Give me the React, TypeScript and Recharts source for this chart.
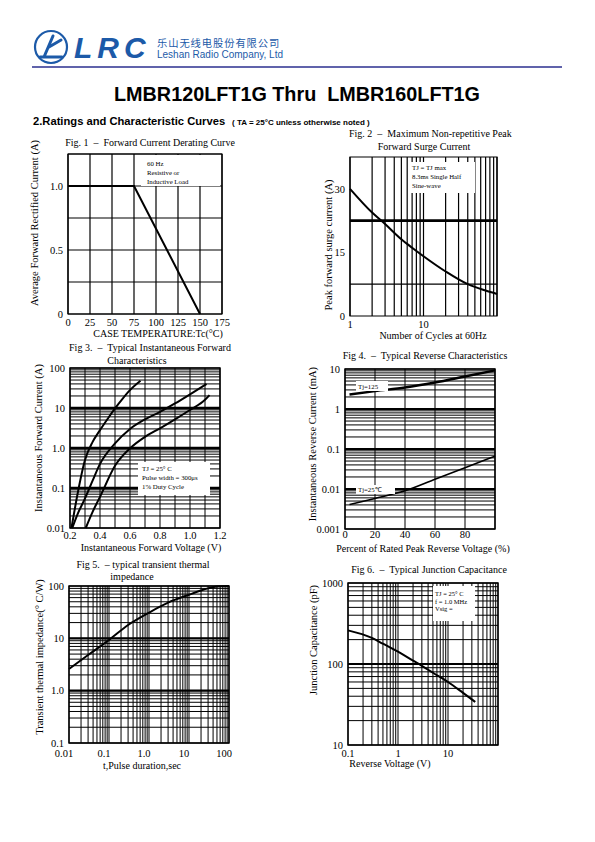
import React from 'react';
import { LineChart, Line, XAxis, YAxis, CartesianGrid, ReferenceLine, ReferenceArea } from 'recharts';

const SERIF = '"Liberation Serif", "Times New Roman", serif';
const SANS = '"Liberation Sans", Arial, sans-serif';
const BLUE = '#1c5aa8';

// ---------- Fig 1: Forward Current Derating Curve
const fig1Temp = [0, 75, 150];
const fig1Current = [1.0, 1.0, 0];
const fig1XTicks = [0, 25, 50, 75, 100, 125, 150, 175];
const fig1YTicks = [0, 0.25, 0.5, 0.75, 1.0, 1.25];
const fig1YLabelValues = [0, 0.5, 1.0];
const fig1YLabelText = ['0', '0.5', '1.0'];

// ---------- Fig 2: Max non-repetitive peak forward surge current
const fig2Cycles = [1, 2, 3, 5, 7, 10, 20, 40, 70, 100];
const fig2Surge = [30, 24.4, 21.7, 18.1, 16.1, 14.1, 10.5, 7.5, 6.0, 5.2];
const fig2YTicks = [0, 15, 30];
const fig2YGridThin = 7.5;
const fig2YGridThick = 22.5;
const fig2XLabelValues = [1, 10];
const fig2XLabelText = ['1', '10'];

// ---------- Fig 3: Instantaneous forward characteristics
const fig3VoltA = [0.21, 0.25, 0.3, 0.35, 0.4, 0.45, 0.5, 0.55, 0.6, 0.67];
const fig3CurrA = [0.01, 0.07, 0.5, 1.4, 2.8, 5.3, 9.8, 17, 28, 48];
const fig3VoltB = [0.215, 0.25, 0.3, 0.35, 0.4, 0.5, 0.6, 0.7, 0.8, 0.9, 1.0, 1.11];
const fig3CurrB = [0.01, 0.022, 0.055, 0.15, 0.4, 1.3, 3.0, 5.2, 8.0, 13, 22, 40];
const fig3VoltC = [0.305, 0.35, 0.4, 0.5, 0.6, 0.7, 0.8, 0.9, 1.0, 1.1, 1.13];
const fig3CurrC = [0.01, 0.025, 0.06, 0.36, 0.98, 1.9, 3.1, 5.2, 8.9, 16, 21];
const fig3XTicks = [0.2, 0.3, 0.4, 0.5, 0.6, 0.7, 0.8, 0.9, 1.0, 1.1, 1.2];
const fig3XLabelValues = [0.2, 0.4, 0.6, 0.8, 1.0, 1.2];
const fig3XLabelText = ['0.2', '0.4', '0.6', '0.8', '1.0', '1.2'];
const fig3YLabelValues = [0.01, 0.1, 1, 10, 100];
const fig3YLabelText = ['0.01', '0.1', '1.0', '10', '100'];

// ---------- Fig 4: Typical reverse characteristics
const fig4Pct = [3, 20, 40, 60, 80, 100];
const fig4Tj125 = [2.3, 2.8, 3.45, 4.6, 6.5, 9.2];
const fig4Tj25 = [0.0041, 0.0058, 0.009, 0.0175, 0.034, 0.066];
const fig4XTicks = [0, 20, 40, 60, 80, 100];
const fig4XLabelValues = [0, 20, 40, 60, 80];
const fig4XLabelText = ['0', '20', '40', '60', '80'];
const fig4YLabelValues = [0.001, 0.01, 0.1, 1, 10];
const fig4YLabelText = ['0.001', '0.01', '0.1', '1', '10'];

// ---------- Fig 5: Transient thermal impedance
const fig5Time = [0.01, 0.03, 0.1, 0.3, 1, 3, 10, 20, 30, 50, 100];
const fig5Imp = [2.6, 4.8, 9.3, 18, 31, 48, 68, 82, 90, 98, 100];
const fig5XLabelValues = [0.01, 0.1, 1, 10, 100];
const fig5XLabelText = ['0.01', '0.1', '1.0', '10', '100'];
const fig5YLabelValues = [0.1, 1, 10, 100];
const fig5YLabelText = ['0.1', '1.0', '10', '100'];

// ---------- Fig 6: Typical junction capacitance
const fig6Volt = [0.1, 0.3, 0.5, 1, 2, 3, 5, 10, 20, 35];
const fig6Cap = [260, 210, 178, 142, 110, 95, 78, 60, 44, 34];
const fig6XLabelValues = [0.1, 1, 10];
const fig6XLabelText = ['0.1', '1', '10'];
const fig6YLabelValues = [10, 100, 1000];
const fig6YLabelText = ['10', '100', '1000'];

// ---------- helpers
function logGrid(loExp: number, hiExp: number): number[] {
  const out: number[] = [];
  for (let e = loExp; e < hiExp; e++) {
    for (let m = 1; m <= 9; m++) out.push(Number((m * Math.pow(10, e)).toPrecision(4)));
  }
  out.push(Number(Math.pow(10, hiExp).toPrecision(4)));
  return out;
}
function labeler(values: number[], texts: string[]) {
  return (v: number) => {
    const i = values.findIndex((x) => Math.abs(x - v) <= Math.abs(x) * 1e-6 + 1e-12);
    return i >= 0 ? texts[i] : '';
  };
}
function pairs(xs: number[], ys: number[]) {
  return xs.map((x, i) => ({ x, y: ys[i] }));
}

const YW = 46;
const TP = 4;
const RP = 16;
const XH = 24;
const tickStyle = { fill: '#000', fontSize: 10.5, fontFamily: SERIF };
const GRID = '#000';

function Frame(props: { px: number; py: number; pw: number; ph: number; children: React.ReactNode }) {
  const { px, py, pw, ph, children } = props;
  return (
    <div style={{ position: 'absolute', left: px - YW, top: py - TP }}>
      <LineChart width={YW + pw + RP} height={TP + ph + XH} margin={{ top: TP, right: RP, left: 0, bottom: 0 }}>
        {children}
      </LineChart>
    </div>
  );
}

function Legend(props: { x: number; y: number; w: number; h: number; tx: number; lines: string[]; baselines: number[]; size?: number }) {
  const { x, y, w, h, tx, lines, baselines, size = 6.8 } = props;
  return (
    <g>
      <rect x={x} y={y} width={w} height={h} fill="#fff" />
      {lines.map((l, i) => (
        <text key={i} x={tx} y={baselines[i]} fontSize={size} fontFamily={SERIF} fill="#000" style={{ whiteSpace: 'pre' }}>
          {l}
        </text>
      ))}
    </g>
  );
}

function VText(props: { x: number; y: number; text: string; size?: number }) {
  const { x, y, text, size = 10.5 } = props;
  return (
    <text x={x} y={y} fontSize={size} fontFamily={SERIF} fill="#000" textAnchor="middle" transform={`rotate(-90 ${x} ${y})`}>
      {text}
    </text>
  );
}

function HText(props: { x: number; y: number; text: string; size?: number; anchor?: 'start' | 'middle' | 'end' }) {
  const { x, y, text, size = 10, anchor = 'middle' } = props;
  return (
    <text x={x} y={y} fontSize={size} fontFamily={SERIF} fill="#000" textAnchor={anchor} style={{ whiteSpace: 'pre' }}>
      {text}
    </text>
  );
}

const curve = { stroke: '#000', strokeWidth: 2, dot: false, isAnimationActive: false } as const;

export default function App() {
  return (
    <div style={{ position: 'absolute', left: 0, top: 0, width: 595, height: 842, background: '#fff', overflow: 'hidden' }}>
      {/* Fig 1 */}
      <Frame px={68} py={154} pw={154} ph={160}>
        <CartesianGrid stroke={GRID} strokeWidth={1.2} />
        <XAxis type="number" dataKey="x" domain={[0, 175]} ticks={fig1XTicks} interval={0} tick={tickStyle} tickLine={false} axisLine={false} height={XH} tickSize={3} />
        <YAxis type="number" domain={[0, 1.25]} ticks={fig1YTicks} interval={0} tickFormatter={labeler(fig1YLabelValues, fig1YLabelText)} tick={tickStyle} tickLine={false} axisLine={false} width={YW} tickSize={3} />
        <ReferenceArea x1={0} x2={175} y1={0} y2={1.25} fill="none" stroke="#000" strokeWidth={1.2} fillOpacity={0} />
        <Line data={pairs(fig1Temp, fig1Current)} dataKey="y" type="linear" {...curve} />
      </Frame>

      {/* Fig 2 */}
      <Frame px={350} py={157} pw={147} ph={159}>
        <CartesianGrid stroke={GRID} strokeWidth={1.2} horizontal={false} />
        <XAxis type="number" dataKey="x" scale="log" domain={[1, 100]} ticks={logGrid(0, 2)} interval={0} tickFormatter={labeler(fig2XLabelValues, fig2XLabelText)} tick={tickStyle} tickLine={false} axisLine={false} height={XH} tickSize={3} />
        <YAxis type="number" domain={[0, 37.5]} ticks={fig2YTicks} interval={0} tick={tickStyle} tickLine={false} axisLine={false} width={YW} tickSize={3} />
        <ReferenceLine y={fig2YGridThin} stroke="#000" strokeWidth={1.2} />
        <ReferenceLine y={fig2YGridThick} stroke="#000" strokeWidth={2.6} />
        <ReferenceArea x1={1} x2={100} y1={0} y2={37.5} fill="none" stroke="#000" strokeWidth={1.2} fillOpacity={0} />
        <Line data={pairs(fig2Cycles, fig2Surge)} dataKey="y" type="monotone" {...curve} />
      </Frame>

      {/* Fig 3 */}
      <Frame px={70} py={368} pw={150} ph={160}>
        <CartesianGrid stroke={GRID} strokeWidth={1} />
        <XAxis type="number" dataKey="x" domain={[0.2, 1.2]} ticks={fig3XTicks} interval={0} tickFormatter={labeler(fig3XLabelValues, fig3XLabelText)} tick={tickStyle} tickLine={false} axisLine={false} height={XH} tickSize={2} />
        <YAxis type="number" scale="log" domain={[0.01, 100]} ticks={logGrid(-2, 2)} interval={0} tickFormatter={labeler(fig3YLabelValues, fig3YLabelText)} tick={tickStyle} tickLine={false} axisLine={false} width={YW} tickSize={3} />
        {[0.1, 1, 10].map((v) => (
          <ReferenceLine key={v} y={v} stroke="#000" strokeWidth={2.4} />
        ))}
        <ReferenceArea x1={0.2} x2={1.2} y1={0.01} y2={100} fill="none" stroke="#000" strokeWidth={1.4} fillOpacity={0} />
        <Line data={pairs(fig3VoltA, fig3CurrA)} dataKey="y" type="monotone" {...curve} />
        <Line data={pairs(fig3VoltB, fig3CurrB)} dataKey="y" type="monotone" {...curve} />
        <Line data={pairs(fig3VoltC, fig3CurrC)} dataKey="y" type="monotone" {...curve} />
      </Frame>

      {/* Fig 4 */}
      <Frame px={345} py={369} pw={150} ph={160}>
        <CartesianGrid stroke={GRID} strokeWidth={1} />
        <XAxis type="number" dataKey="x" domain={[0, 100]} ticks={fig4XTicks} interval={0} tickFormatter={labeler(fig4XLabelValues, fig4XLabelText)} tick={tickStyle} tickLine={false} axisLine={false} height={XH} tickSize={0} />
        <YAxis type="number" scale="log" domain={[0.001, 10]} ticks={logGrid(-3, 1)} interval={0} tickFormatter={labeler(fig4YLabelValues, fig4YLabelText)} tick={tickStyle} tickLine={false} axisLine={false} width={YW} tickSize={3} />
        {[0.01, 0.1, 1].map((v) => (
          <ReferenceLine key={v} y={v} stroke="#000" strokeWidth={2.2} />
        ))}
        <ReferenceArea x1={0} x2={100} y1={0.001} y2={10} fill="none" stroke="#000" strokeWidth={1.4} fillOpacity={0} />
        <Line data={pairs(fig4Pct, fig4Tj125)} dataKey="y" type="monotone" {...curve} strokeWidth={2.4} />
        <Line data={pairs(fig4Pct, fig4Tj25)} dataKey="y" type="monotone" {...curve} strokeWidth={1.6} />
      </Frame>

      {/* Fig 5 */}
      <Frame px={69} py={586} pw={160} ph={157}>
        <CartesianGrid stroke={GRID} strokeWidth={1} />
        <XAxis type="number" dataKey="x" scale="log" domain={[0.01, 100]} ticks={logGrid(-2, 2)} interval={0} tickFormatter={labeler(fig5XLabelValues, fig5XLabelText)} tick={{ ...tickStyle, dx: -5 }} tickLine={false} axisLine={false} height={XH} tickSize={5} />
        <YAxis type="number" scale="log" domain={[0.1, 100]} ticks={logGrid(-1, 2)} interval={0} tickFormatter={labeler(fig5YLabelValues, fig5YLabelText)} tick={tickStyle} tickLine={false} axisLine={false} width={YW} tickSize={3} />
        {[1, 10].map((v) => (
          <ReferenceLine key={v} y={v} stroke="#000" strokeWidth={2.2} />
        ))}
        <ReferenceArea x1={0.01} x2={100} y1={0.1} y2={100} fill="none" stroke="#000" strokeWidth={1.4} fillOpacity={0} />
        <Line data={pairs(fig5Time, fig5Imp)} dataKey="y" type="monotone" {...curve} />
      </Frame>

      {/* Fig 6 */}
      <Frame px={348} py={583} pw={150} ph={162}>
        <CartesianGrid stroke={GRID} strokeWidth={1} />
        <XAxis type="number" dataKey="x" scale="log" domain={[0.1, 100]} ticks={logGrid(-1, 2)} interval={0} tickFormatter={labeler(fig6XLabelValues, fig6XLabelText)} tick={tickStyle} tickLine={false} axisLine={false} height={XH} tickSize={3} />
        <YAxis type="number" scale="log" domain={[10, 1000]} ticks={logGrid(1, 3)} interval={0} tickFormatter={labeler(fig6YLabelValues, fig6YLabelText)} tick={tickStyle} tickLine={false} axisLine={false} width={YW} tickSize={3} />
        <ReferenceLine y={100} stroke="#000" strokeWidth={2.2} />
        <ReferenceArea x1={0.1} x2={100} y1={10} y2={1000} fill="none" stroke="#000" strokeWidth={1.4} fillOpacity={0} />
        <Line data={pairs(fig6Volt, fig6Cap)} dataKey="y" type="monotone" {...curve} />
      </Frame>

      {/* Text overlay */}
      <svg width={595} height={842} style={{ position: 'absolute', left: 0, top: 0, pointerEvents: 'none' }}>
        {/* header */}
        <circle cx={51} cy={47} r={16} fill="none" stroke={BLUE} strokeWidth={2.2} />
        <path d="M40 57 H62 M44 57 L53 36 M49 47 L61 40" fill="none" stroke={BLUE} strokeWidth={3} strokeLinecap="round" />
        <text x={74} y={58} fontFamily={SANS} fontWeight="bold" fontStyle="italic" fontSize={30} fill={BLUE} letterSpacing={5}>LRC</text>
        <text x={157} y={47} fontFamily='"Noto Sans CJK SC", sans-serif' fontSize={10.3} fill={BLUE} letterSpacing={0.9}>乐山无线电股份有限公司</text>
        <text x={157} y={58} fontFamily={SANS} fontSize={10} fill={BLUE}>Leshan Radio Company, Ltd</text>
        <line x1={32} x2={562} y1={67} y2={67} stroke="#2b2f8f" strokeWidth={1.3} />
        <text x={297} y={101} fontFamily={SANS} fontWeight="bold" fontSize={19.8} fill="#000" textAnchor="middle" style={{ whiteSpace: 'pre' }}>LMBR120LFT1G Thru  LMBR160LFT1G</text>
        <text x={33} y={125} fontFamily={SANS} fontWeight="bold" fontSize={11.2} fill="#000">2.Ratings and Characteristic Curves</text>
        <text x={232} y={125} fontFamily={SANS} fontWeight="bold" fontSize={8} fill="#000">( TA = 25°C unless otherwise noted )</text>

        {/* Fig 1 texts */}
        <HText x={150} y={146} text="Fig. 1  –  Forward Current Derating Curve" />
        <VText x={38} y={223} text="Average Forward Rectified Current (A)" />
        <HText x={158} y={337} text="CASE TEMPERATURE:Tc(°C)" />
        <Legend x={141} y={155} w={79} h={31} tx={147} lines={['60 Hz', 'Resistive or', 'Inductive Load']} baselines={[165.5, 174.5, 184]} />

        {/* Fig 2 texts */}
        <HText x={349} y={137} text="Fig. 2  –  Maximum Non-repetitive Peak" anchor="start" />
        <HText x={424} y={150} text="Forward Surge Current" />
        <VText x={332} y={245} text="Peak forward surge current (A)" />
        <HText x={433} y={339} text="Number of Cycles at 60Hz" />
        <Legend x={410} y={162} w={65} h={31} tx={412} lines={['TJ = TJ max', '8.3ms Single Half', 'Sine-wave']} baselines={[170, 179, 188]} />

        {/* Fig 3 texts */}
        <HText x={150} y={351} text="Fig 3.  –  Typical Instantaneous Forward" />
        <HText x={137} y={364} text="Characteristics" />
        <VText x={42} y={438} text="Instantaneous Forward Current (A)" />
        <HText x={151} y={551} text="Instantaneous Forward Voltage (V)" />
        <Legend x={138} y={462} w={72} h={33} tx={142} lines={['TJ = 25° C', 'Pulse width = 300μs', '1% Duty Cycle']} baselines={[470.5, 479.5, 489]} />

        {/* Fig 4 texts */}
        <HText x={425} y={359} text="Fig 4.  –  Typical Reverse Characteristics" />
        <VText x={316} y={444} text="Instantaneous Reverse Current (mA)" />
        <HText x={423} y={552} text="Percent of Rated Peak Reverse Voltage (%)" />
        <Legend x={356} y={381} w={32} h={10} tx={358} lines={['Tj=125']} baselines={[389]} />
        <Legend x={356} y={485} w={39} h={9} tx={358} lines={['Tj=25℃']} baselines={[492]} />

        {/* Fig 5 texts */}
        <HText x={143} y={568} text="Fig 5.  – typical transient thermal" />
        <HText x={132} y={580} text="impedance" />
        <VText x={43} y={657} text="Transient thermal impedance(° C/W)" />
        <HText x={142} y={769} text="t,Pulse duration,sec" />

        {/* Fig 6 texts */}
        <HText x={429} y={573} text="Fig 6.  –  Typical Junction Capacitance" />
        <VText x={317} y={640} text="Junction Capacitance (pF)" />
        <HText x={390} y={767} text="Reverse Voltage (V)" />
        <Legend x={433} y={586} w={42} h={35} tx={435} lines={['TJ = 25° C', 'f = 1.0 MHz', 'Vsig =']} baselines={[595.5, 603.5, 611]} size={6.5} />
      </svg>
    </div>
  );
}
